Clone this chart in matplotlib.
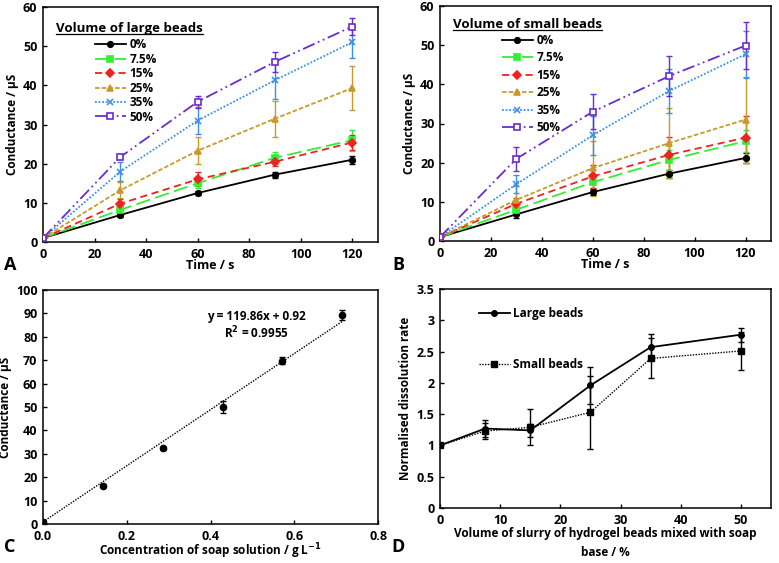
import numpy as np
import matplotlib
matplotlib.use('Agg')
import matplotlib.pyplot as plt
from matplotlib.lines import Line2D

plt.rcParams['font.family'] = ['Open Sans', 'DejaVu Sans']
plt.rcParams['font.weight'] = 'bold'
plt.rcParams['font.size'] = 8
plt.rcParams['axes.labelweight'] = 'bold'

# ---- data ----
time_s = [0, 30, 60, 90, 120]
pct_labels = ['0%', '7.5%', '15%', '25%', '35%', '50%']

# panel A: large beads
large_y = [
    [1, 6.9, 12.5, 17.2, 21.0],
    [1, 8.2, 15.0, 21.5, 26.0],
    [1, 9.8, 16.0, 20.5, 25.4],
    [1, 13.2, 23.3, 31.5, 39.3],
    [1, 18.0, 31.0, 41.3, 51.0],
    [1, 21.7, 35.8, 46.0, 55.0],
]
large_err = [
    [0.3, 0.6, 0.6, 0.8, 1.0],
    [0.3, 1.0, 1.2, 1.6, 2.7],
    [0.3, 1.3, 1.8, 1.1, 1.8],
    [0.3, 2.0, 3.4, 4.6, 5.7],
    [0.3, 2.3, 3.5, 4.8, 4.0],
    [0.3, 0.5, 1.5, 2.6, 2.2],
]

# panel B: small beads
small_y = [
    [1, 6.8, 12.5, 17.2, 21.2],
    [1, 8.0, 15.0, 20.7, 25.5],
    [1, 9.5, 16.5, 22.0, 26.4],
    [1, 10.5, 18.6, 25.0, 31.0],
    [1, 14.5, 27.0, 38.3, 47.7],
    [1, 21.0, 33.0, 42.1, 49.9],
]
small_err = [
    [0.3, 0.8, 0.8, 1.0, 1.2],
    [0.3, 1.0, 1.5, 2.5, 2.8],
    [0.3, 1.5, 3.0, 4.5, 5.5],
    [0.3, 3.5, 7.0, 9.0, 11.0],
    [0.3, 2.3, 5.0, 5.5, 6.0],
    [0.3, 3.0, 4.5, 5.2, 6.0],
]

# panel C: calibration
conc = [0, 0.143, 0.286, 0.429, 0.571, 0.714]
cond = [1.0, 16.3, 32.3, 50.0, 69.8, 89.3]
cond_err = [0.3, 0.6, 0.6, 2.7, 1.5, 2.0]
fit_slope, fit_icpt = 119.86, 0.92

# panel D: normalised rates
vol_pct = [0, 7.5, 15, 25, 35, 50]
rate_large = [1.0, 1.27, 1.24, 1.96, 2.57, 2.77]
rate_large_err = [0.03, 0.14, 0.10, 0.30, 0.21, 0.11]
rate_small = [1.0, 1.23, 1.29, 1.53, 2.39, 2.51]
rate_small_err = [0.03, 0.13, 0.29, 0.58, 0.32, 0.31]

colors = ['#000000', '#33ee33', '#ee2222', '#c89a2a', '#3a8fe6', '#6a2bd0']
styles = ['-', (0, (8, 3)), (0, (4, 2.5)), (0, (2.5, 1.2)), (0, (1, 1)),
          (0, (7, 2, 1, 2, 1, 2))]
markers = ['o', 's', 'D', '^', 'x', 's']

W, H = 779, 563
fig = plt.figure(figsize=(W / 100, H / 100), dpi=100)


def box(l, r, t, b):
    return [l / W, (H - b) / H, (r - l) / W, (b - t) / H]


def style_ax(ax):
    for s in ax.spines.values():
        s.set_linewidth(1.1)
    ax.tick_params(direction='in', length=3, width=1.0, labelsize=9, pad=4)


def panel_time(ax, ys, errs, title, tx, ty, lx, ly, lsp):
    handles = []
    for i in range(6):
        mfc = 'white' if i == 5 else colors[i]
        ax.errorbar(time_s, ys[i], yerr=errs[i], color=colors[i], ecolor=colors[i],
                    elinewidth=1.0, capsize=2, capthick=1.0, zorder=2, fmt='none')
        h, = ax.plot(time_s, ys[i], color=colors[i], linestyle=styles[i], lw=1.3,
                     marker=markers[i], ms=5 if i == 5 else 4, mfc=mfc,
                     mec=colors[i], mew=1.2, zorder=3)
        handles.append(h)
    ax.set_xlim(0, 130)
    ax.set_ylim(0, 60)
    ax.set_xticks([0, 20, 40, 60, 80, 100, 120])
    ax.set_yticks(range(0, 61, 10))
    ax.set_xlabel('Time / s', labelpad=-1, fontsize=9)
    ax.set_ylabel('Conductance / µS', labelpad=3, fontsize=8.5)
    style_ax(ax)
    t = ax.text(tx, ty, title, transform=ax.transAxes, fontsize=9.5,
                fontweight='bold', ha='left', va='center')
    ax.legend(handles, pct_labels, loc='upper left', bbox_to_anchor=(lx, ly),
              frameon=False, handlelength=2.6, handletextpad=0.3,
              labelspacing=lsp, borderpad=0, borderaxespad=0, fontsize=8.5)
    return t


axA = fig.add_axes(box(43, 378, 7, 242))
tA = panel_time(axA, large_y, large_err, 'Volume of large beads', 0.04, 0.91, 0.155, 0.866, 0.12)

axB = fig.add_axes(box(440, 771, 6, 241))
tB = panel_time(axB, small_y, small_err, 'Volume of small beads', 0.04, 0.92, 0.187, 0.882, 0.38)

# panel C
axC = fig.add_axes(box(43, 378, 290, 524))
xs = np.array([0, conc[-1]])
axC.plot(xs, fit_slope * xs + fit_icpt, color='black', linestyle=(0, (1, 1)), lw=1.0, zorder=2)
axC.errorbar(conc, cond, yerr=cond_err, fmt='o', color='black', ms=4.5,
             elinewidth=1.0, capsize=2, capthick=1.0, zorder=3)
axC.set_xlim(0, 0.8)
axC.set_ylim(0, 100)
axC.set_xticks([0, 0.2, 0.4, 0.6, 0.8])
axC.set_xticklabels(['0.0', '0.2', '0.4', '0.6', '0.8'])
axC.set_yticks(range(0, 101, 10))
axC.set_xlabel('Concentration of soap solution / g L$^{\\mathbf{-1}}$', labelpad=-1, fontsize=8.5)
axC.set_ylabel('Conductance / µS', labelpad=3, fontsize=8.5)
axC.text(0.51, 84.8, 'y = 119.86x + 0.92\nR$^{\\mathbf{2}}$ = 0.9955', ha='center', va='center',
         fontsize=8.5, linespacing=1.15)
style_ax(axC)

# panel D
axD = fig.add_axes(box(440, 771, 289, 508))
axD.errorbar(vol_pct, rate_large, yerr=rate_large_err, fmt='none', ecolor='black',
             elinewidth=1.0, capsize=2, capthick=1.0)
axD.errorbar(vol_pct, rate_small, yerr=rate_small_err, fmt='none', ecolor='black',
             elinewidth=1.0, capsize=2, capthick=1.0)
hl, = axD.plot(vol_pct, rate_large, color='black', lw=1.3, marker='o', ms=4)
hs, = axD.plot(vol_pct, rate_small, color='black', lw=1.0, linestyle=(0, (1, 1)),
               marker='s', ms=4)
axD.set_xlim(0, 55)
axD.set_ylim(0, 3.5)
axD.set_xticks(range(0, 51, 10))
axD.set_yticks(np.arange(0, 3.51, 0.5))
axD.set_yticklabels(['0', '0.5', '1', '1.5', '2', '2.5', '3', '3.5'])
axD.set_xlabel('Volume of slurry of hydrogel beads mixed with soap\nbase / %', labelpad=0,
               linespacing=1.6, fontsize=8.5)
axD.set_ylabel('Normalised dissolution rate', labelpad=3, fontsize=8.5)
axD.legend([hl, hs], ['Large beads', 'Small beads'], loc='upper left',
           bbox_to_anchor=(0.118, 0.917), frameon=False, handlelength=2.6,
           handletextpad=0.3, labelspacing=3.2, borderpad=0, borderaxespad=0, fontsize=8.5)
style_ax(axD)

# panel letters
for letter, x, y in [('A', 4, 265), ('B', 392, 265), ('C', 4, 547), ('D', 391, 547)]:
    fig.text(x / W, 1 - y / H, letter, fontsize=13, fontweight='bold', ha='left', va='center')

# underline legend titles
fig.canvas.draw()
r = fig.canvas.get_renderer()
for t in [tA, tB]:
    bb = t.get_window_extent(r)
    fig.add_artist(Line2D([bb.x0 / W, bb.x1 / W], [(bb.y0 + 1) / H, (bb.y0 + 1) / H],
                          color='black', lw=0.9, transform=fig.transFigure))

fig.savefig('out.png', dpi=100)
